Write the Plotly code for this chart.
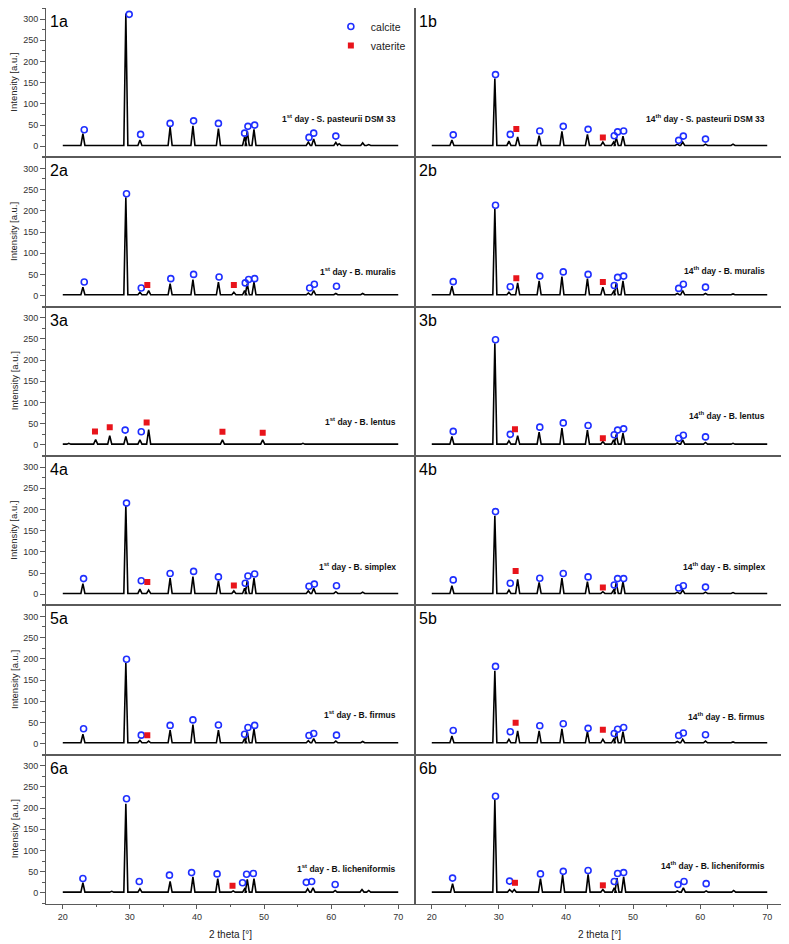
import plotly.graph_objects as go

# ---------------- data ----------------
BASELINE = 2
X_START, X_END = 20, 70

# 1a
P1A_PEAK_X = [23.0, 29.4, 31.5, 36.0, 39.4, 43.2, 47.1, 47.5, 48.5, 56.6, 57.4, 60.7, 61.2, 64.7, 65.6]
P1A_PEAK_Y = [30, 313, 15, 45, 48, 42, 22, 35, 40, 10, 17, 9, 6, 8, 4]
P1A_CAL_X = [23.2, 29.9, 31.6, 36.0, 39.5, 43.2, 47.1, 47.6, 48.6, 56.7, 57.4, 60.7]
P1A_CAL_Y = [39, 311, 28, 54, 60, 54, 31, 47, 50, 21, 31, 24]
P1A_VAT_X = []
P1A_VAT_Y = []
# 1b
P1B_PEAK_X = [23.0, 29.4, 31.5, 32.8, 36.0, 39.4, 43.2, 45.5, 47.1, 47.5, 48.5, 56.6, 57.4, 60.8, 64.9]
P1B_PEAK_Y = [15, 160, 12, 22, 25, 35, 28, 10, 10, 20, 24, 5, 10, 5, 5]
P1B_CAL_X = [23.2, 29.5, 31.7, 36.1, 39.6, 43.3, 47.2, 47.7, 48.6, 56.8, 57.5, 60.8]
P1B_CAL_Y = [27, 169, 28, 36, 47, 40, 25, 34, 36, 14, 24, 17]
P1B_VAT_X = [32.6, 45.5]
P1B_VAT_Y = [41, 21]
# 2a
P2A_PEAK_X = [23.0, 29.4, 31.5, 32.8, 36.0, 39.4, 43.2, 45.5, 47.1, 47.5, 48.5, 56.6, 57.4, 60.7, 64.7]
P2A_PEAK_Y = [20, 232, 8, 12, 28, 38, 32, 8, 12, 28, 32, 6, 12, 5, 5]
P2A_CAL_X = [23.2, 29.5, 31.7, 36.1, 39.5, 43.3, 47.2, 47.7, 48.6, 56.8, 57.5, 60.8]
P2A_CAL_Y = [32, 240, 18, 40, 50, 44, 30, 38, 40, 18, 27, 22]
P2A_VAT_X = [32.6, 45.5]
P2A_VAT_Y = [25, 25]
# 2b
P2B_PEAK_X = [23.0, 29.4, 31.5, 32.8, 36.0, 39.4, 43.2, 45.5, 47.1, 47.5, 48.5, 56.6, 57.4, 60.8, 64.9]
P2B_PEAK_Y = [22, 205, 8, 30, 35, 45, 40, 20, 10, 30, 35, 5, 12, 5, 4]
P2B_CAL_X = [23.2, 29.5, 31.7, 36.1, 39.6, 43.3, 47.2, 47.7, 48.6, 56.8, 57.5, 60.8]
P2B_CAL_Y = [33, 213, 21, 46, 56, 50, 24, 43, 46, 17, 27, 20]
P2B_VAT_X = [32.6, 45.5]
P2B_VAT_Y = [41, 32]
# 3a
P3A_PEAK_X = [20.9, 24.9, 27.0, 29.4, 31.5, 32.8, 43.8, 49.8, 55.8]
P3A_PEAK_Y = [4, 13, 22, 20, 12, 36, 12, 12, 4]
P3A_CAL_X = [29.3, 31.7]
P3A_CAL_Y = [35, 31]
P3A_VAT_X = [24.8, 27.0, 32.5, 43.8, 49.8]
P3A_VAT_Y = [32, 42, 53, 31, 29]
# 3b
P3B_PEAK_X = [23.0, 29.4, 31.5, 32.8, 36.0, 39.4, 43.2, 45.5, 47.1, 47.5, 48.5, 56.6, 57.4, 60.8, 64.9]
P3B_PEAK_Y = [20, 240, 10, 22, 30, 40, 35, 8, 12, 25, 28, 5, 12, 6, 4]
P3B_CAL_X = [23.2, 29.5, 31.7, 36.1, 39.6, 43.3, 47.2, 47.7, 48.6, 56.8, 57.5, 60.8]
P3B_CAL_Y = [32, 248, 25, 42, 52, 46, 24, 35, 38, 16, 23, 19]
P3B_VAT_X = [32.4, 45.5]
P3B_VAT_Y = [37, 16]
# 4a
P4A_PEAK_X = [23.0, 29.4, 31.5, 32.8, 36.0, 39.4, 43.2, 45.5, 47.1, 47.5, 48.5, 56.6, 57.4, 60.7, 64.7]
P4A_PEAK_Y = [25, 210, 12, 10, 38, 42, 32, 8, 14, 32, 38, 8, 14, 6, 5]
P4A_CAL_X = [23.1, 29.5, 31.7, 36.0, 39.5, 43.2, 47.2, 47.6, 48.6, 56.7, 57.5, 60.8]
P4A_CAL_Y = [37, 215, 32, 49, 54, 41, 26, 43, 48, 19, 24, 20]
P4A_VAT_X = [32.6, 45.5]
P4A_VAT_Y = [29, 21]
# 4b
P4B_PEAK_X = [23.0, 29.4, 31.5, 32.8, 36.0, 39.4, 43.2, 45.5, 47.1, 47.5, 48.5, 56.6, 57.4, 60.8, 64.9]
P4B_PEAK_Y = [20, 185, 10, 35, 28, 38, 30, 6, 10, 28, 30, 5, 10, 5, 4]
P4B_CAL_X = [23.2, 29.5, 31.7, 36.1, 39.6, 43.3, 47.2, 47.7, 48.6, 56.8, 57.5, 60.8]
P4B_CAL_Y = [34, 195, 26, 38, 49, 41, 22, 37, 37, 15, 20, 17]
P4B_VAT_X = [32.5, 45.5]
P4B_VAT_Y = [55, 16]
# 5a
P5A_PEAK_X = [23.0, 29.4, 31.5, 32.8, 36.0, 39.4, 43.2, 47.1, 47.5, 48.5, 56.6, 57.4, 60.7, 64.7]
P5A_PEAK_Y = [22, 190, 8, 6, 32, 45, 32, 12, 28, 35, 7, 12, 6, 5]
P5A_CAL_X = [23.1, 29.5, 31.7, 36.0, 39.4, 43.2, 47.1, 47.6, 48.6, 56.7, 57.4, 60.8]
P5A_CAL_Y = [35, 199, 20, 43, 56, 44, 22, 38, 43, 19, 24, 20]
P5A_VAT_X = [32.6]
P5A_VAT_Y = [20]
# 5b
P5B_PEAK_X = [23.0, 29.4, 31.5, 32.8, 36.0, 39.4, 43.2, 45.5, 47.1, 47.5, 48.5, 56.6, 57.4, 60.8, 64.9]
P5B_PEAK_Y = [18, 172, 10, 30, 30, 35, 28, 10, 10, 25, 28, 5, 10, 6, 4]
P5B_CAL_X = [23.2, 29.5, 31.7, 36.1, 39.6, 43.3, 47.2, 47.7, 48.6, 56.8, 57.5, 60.8]
P5B_CAL_Y = [31, 182, 28, 42, 47, 36, 24, 34, 38, 19, 25, 21]
P5B_VAT_X = [32.5, 45.5]
P5B_VAT_Y = [49, 33]
# 6a
P6A_PEAK_X = [23.0, 27.3, 29.4, 31.5, 36.0, 39.4, 43.1, 45.4, 47.1, 47.5, 48.5, 56.5, 57.3, 60.6, 62.9, 64.6, 65.6]
P6A_PEAK_Y = [24, 4, 210, 10, 27, 38, 34, 5, 10, 32, 34, 10, 12, 6, 3, 8, 6]
P6A_CAL_X = [23.0, 29.5, 31.4, 35.9, 39.2, 43.0, 46.8, 47.4, 48.4, 56.3, 57.1, 60.6]
P6A_CAL_Y = [34, 222, 27, 42, 48, 45, 24, 44, 46, 25, 27, 20]
P6A_VAT_X = [45.3]
P6A_VAT_Y = [17]
# 6b
P6B_PEAK_X = [23.1, 29.4, 31.6, 32.3, 36.2, 39.5, 43.3, 45.5, 47.2, 47.6, 48.6, 56.6, 57.5, 60.9, 65.0, 66.0]
P6B_PEAK_Y = [22, 220, 8, 8, 34, 42, 44, 8, 12, 35, 38, 5, 12, 5, 6, 3]
P6B_CAL_X = [23.1, 29.5, 31.6, 36.2, 39.6, 43.3, 47.2, 47.7, 48.6, 56.7, 57.6, 60.9]
P6B_CAL_Y = [35, 228, 28, 45, 51, 53, 27, 46, 48, 20, 27, 22]
P6B_VAT_X = [32.4, 45.5]
P6B_VAT_Y = [24, 18]

PANEL_NAMES = ["1a", "1b", "2a", "2b", "3a", "3b", "4a", "4b", "5a", "5b", "6a", "6b"]
PANEL_TEXT = [
    "1<sup>st</sup> day - S. pasteurii DSM 33", "14<sup>th</sup> day - S. pasteurii DSM 33",
    "1<sup>st</sup> day - B. muralis", "14<sup>th</sup> day - B. muralis",
    "1<sup>st</sup> day - B. lentus", "14<sup>th</sup> day - B. lentus",
    "1<sup>st</sup> day - B. simplex", "14<sup>th</sup> day - B. simplex",
    "1<sup>st</sup> day - B. firmus", "14<sup>th</sup> day - B. firmus",
    "1<sup>st</sup> day - B. licheniformis", "14<sup>th</sup> day - B. licheniformis",
]
PANEL_TEXT_Y = [65, 65, 58, 60, 56, 70, 65, 65, 68, 64, 57, 64]

PANELS = [
    (P1A_PEAK_X, P1A_PEAK_Y, P1A_CAL_X, P1A_CAL_Y, P1A_VAT_X, P1A_VAT_Y),
    (P1B_PEAK_X, P1B_PEAK_Y, P1B_CAL_X, P1B_CAL_Y, P1B_VAT_X, P1B_VAT_Y),
    (P2A_PEAK_X, P2A_PEAK_Y, P2A_CAL_X, P2A_CAL_Y, P2A_VAT_X, P2A_VAT_Y),
    (P2B_PEAK_X, P2B_PEAK_Y, P2B_CAL_X, P2B_CAL_Y, P2B_VAT_X, P2B_VAT_Y),
    (P3A_PEAK_X, P3A_PEAK_Y, P3A_CAL_X, P3A_CAL_Y, P3A_VAT_X, P3A_VAT_Y),
    (P3B_PEAK_X, P3B_PEAK_Y, P3B_CAL_X, P3B_CAL_Y, P3B_VAT_X, P3B_VAT_Y),
    (P4A_PEAK_X, P4A_PEAK_Y, P4A_CAL_X, P4A_CAL_Y, P4A_VAT_X, P4A_VAT_Y),
    (P4B_PEAK_X, P4B_PEAK_Y, P4B_CAL_X, P4B_CAL_Y, P4B_VAT_X, P4B_VAT_Y),
    (P5A_PEAK_X, P5A_PEAK_Y, P5A_CAL_X, P5A_CAL_Y, P5A_VAT_X, P5A_VAT_Y),
    (P5B_PEAK_X, P5B_PEAK_Y, P5B_CAL_X, P5B_CAL_Y, P5B_VAT_X, P5B_VAT_Y),
    (P6A_PEAK_X, P6A_PEAK_Y, P6A_CAL_X, P6A_CAL_Y, P6A_VAT_X, P6A_VAT_Y),
    (P6B_PEAK_X, P6B_PEAK_Y, P6B_CAL_X, P6B_CAL_Y, P6B_VAT_X, P6B_VAT_Y),
]

# ---------------- style ----------------
HW = 0.3  # peak half width (drawing style)
X_RANGE = [17.5, 72.5]
Y_RANGE = [-26, 326]
FRAME = "#5a5a5a"
FONT = "Arial, Liberation Sans, sans-serif"
TICKFONT = dict(family=FONT, size=9, color="#333")
BLUE = "#1f2fff"
RED = "#e8141b"


def spectrum(px, py):
    xs, ys = [X_START], [BASELINE]
    for p, h in sorted(zip(px, py)):
        xs += [p - HW, p, p + HW]
        ys += [BASELINE, h, BASELINE]
    xs.append(X_END)
    ys.append(BASELINE)
    return xs, ys


fig = go.Figure()
layout = {}
annotations = []

for k, (pkx, pky, cx, cy, vx, vy) in enumerate(PANELS, start=1):
    r, c = (k - 1) // 2, (k - 1) % 2
    ax = "" if k == 1 else str(k)
    xs, ys = spectrum(pkx, pky)
    fig.add_trace(go.Scatter(x=xs, y=ys, mode="lines", line=dict(color="black", width=1.6),
                             xaxis="x" + ax, yaxis="y" + ax, showlegend=False, hoverinfo="skip"))
    fig.add_trace(go.Scatter(x=cx, y=cy, mode="markers", name="calcite",
                             marker=dict(symbol="circle-open", size=6, color=BLUE, line=dict(width=1.6, color=BLUE)),
                             xaxis="x" + ax, yaxis="y" + ax, showlegend=(k == 1)))
    fig.add_trace(go.Scatter(x=vx if vx else [None], y=vy if vy else [None], mode="markers", name="vaterite",
                             marker=dict(symbol="square", size=6, color=RED),
                             xaxis="x" + ax, yaxis="y" + ax, showlegend=(k == 1)))
    bottom = (r == 5)
    left = (c == 0)
    layout["xaxis" + ax] = dict(
        domain=[c * 0.5, (c + 1) * 0.5], anchor="y" + ax, range=X_RANGE,
        showline=True, mirror=True, linecolor=FRAME, linewidth=1, showgrid=False, zeroline=False,
        ticks="outside" if bottom else "", tick0=0, dtick=10, ticklen=4, tickcolor=FRAME,
        showticklabels=bottom, tickfont=TICKFONT,
        minor=dict(ticks="outside" if bottom else "", dtick=5, ticklen=2, tickcolor=FRAME, showgrid=False),
    )
    layout["yaxis" + ax] = dict(
        domain=[1 - (r + 1) / 6, 1 - r / 6], anchor="x" + ax, range=Y_RANGE,
        showline=True, mirror=True, linecolor=FRAME, linewidth=1, showgrid=False, zeroline=False,
        ticks="outside" if left else "", tick0=0, dtick=50, ticklen=5, tickcolor=FRAME,
        showticklabels=left, tickfont=TICKFONT,
        minor=dict(ticks="outside" if left else "", dtick=25, ticklen=3, tickcolor=FRAME, showgrid=False),
    )
    annotations.append(dict(text=PANEL_NAMES[k - 1], xref="x%s domain" % ax, yref="y%s domain" % ax,
                            x=0, y=1, xanchor="left", yanchor="top", xshift=2, yshift=-3, showarrow=False,
                            font=dict(family=FONT, size=16, color="black")))
    annotations.append(dict(text="<b>" + PANEL_TEXT[k - 1] + "</b>", xref="x" + ax, yref="y" + ax,
                            x=70, y=PANEL_TEXT_Y[k - 1], xanchor="right", yanchor="middle", showarrow=False,
                            font=dict(family=FONT, size=8.5, color="#111")))
    if left:
        annotations.append(dict(text="Intensity [a.u.]", xref="paper", yref="y%s domain" % ax,
                                x=0, y=0.5, xanchor="center", yanchor="middle", xshift=-32, textangle=-90,
                                showarrow=False, font=dict(family=FONT, size=9.5, color="#222")))
    if bottom:
        annotations.append(dict(text="2 theta [°]", xref="x%s domain" % ax, yref="paper",
                                x=0.5, y=0, xanchor="center", yanchor="middle", yshift=-30, showarrow=False,
                                font=dict(family=FONT, size=10, color="#222")))

# the page body adds an 8px offset, so the figure is 8px smaller and margins are shifted
fig.update_layout(
    width=781, height=936,
    margin=dict(l=38, r=5, t=0, b=40),
    plot_bgcolor="white", paper_bgcolor="white",
    annotations=annotations,
    legend=dict(x=0.386, y=0.9955, xanchor="left", yanchor="top", bgcolor="rgba(0,0,0,0)",
                font=dict(family=FONT, size=10.5, color="#222"),
                tracegroupgap=0, itemwidth=30),
    **layout,
)

fig.write_html("out.html")
